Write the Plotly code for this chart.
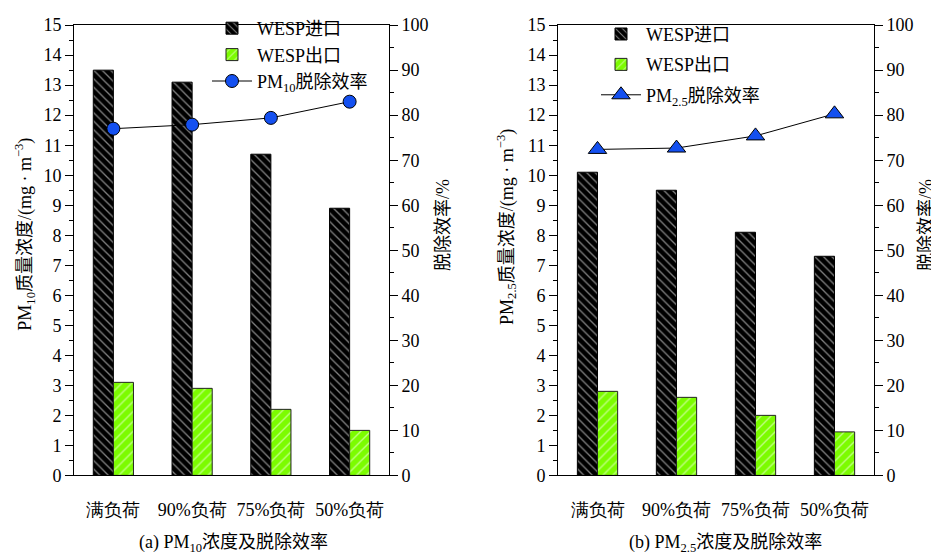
import plotly.graph_objects as go

categories = ["满负荷", "90%负荷", "75%负荷", "50%负荷"]
pm10_inlet = [13.5, 13.1, 10.7, 8.9]
pm10_outlet = [3.1, 2.9, 2.2, 1.5]
pm10_eff = [77.0, 77.9, 79.4, 83.0]
pm25_inlet = [10.1, 9.5, 8.1, 7.3]
pm25_outlet = [2.8, 2.6, 2.0, 1.45]
pm25_eff = [72.4, 72.7, 75.4, 80.3]
conc_ticks = list(range(0, 16))
eff_ticks = list(range(0, 101, 10))

W, H = 931, 558
FONT = "'Liberation Serif', 'Noto Sans CJK SC'"
TFONT = "Liberation Serif"
BLACK = "#000000"
GREEN = "#7CFC00"
BLUE = "#1450F0"


def px(x):
    return x / W


def py(y):
    return 1 - y / H


fig = go.Figure()

inlet_pat = dict(shape="\\", fgcolor="white", bgcolor=BLACK, size=6, solidity=0.22)
outlet_pat = dict(shape="/", fgcolor="white", bgcolor=GREEN, size=7, solidity=0.2)

# Panel (a)
fig.add_trace(go.Bar(x=categories, y=pm10_inlet, name="WESP进口", xaxis="x", yaxis="y",
                     marker=dict(color=BLACK, pattern=inlet_pat, line=dict(color=BLACK, width=1)),
                     legend="legend", legendgroup="a1", offsetgroup="a1"))
fig.add_trace(go.Bar(x=categories, y=pm10_outlet, name="WESP出口", xaxis="x", yaxis="y",
                     marker=dict(color=GREEN, pattern=outlet_pat, line=dict(color="#222222", width=1)),
                     legend="legend", legendgroup="a2", offsetgroup="a2"))
fig.add_trace(go.Scatter(x=categories, y=pm10_eff, name="PM<sub>10</sub>脱除效率", xaxis="x", yaxis="y2",
                         mode="lines+markers", line=dict(color=BLACK, width=1),
                         marker=dict(symbol="circle", size=13, color=BLUE, line=dict(color=BLACK, width=1)),
                         legend="legend", legendgroup="a3"))

# Panel (b)
fig.add_trace(go.Bar(x=categories, y=pm25_inlet, name="WESP进口", xaxis="x2", yaxis="y3",
                     marker=dict(color=BLACK, pattern=inlet_pat, line=dict(color=BLACK, width=1)),
                     legend="legend2", legendgroup="b1", offsetgroup="b1"))
fig.add_trace(go.Bar(x=categories, y=pm25_outlet, name="WESP出口", xaxis="x2", yaxis="y3",
                     marker=dict(color=GREEN, pattern=outlet_pat, line=dict(color="#222222", width=1)),
                     legend="legend2", legendgroup="b2", offsetgroup="b2"))
fig.add_trace(go.Scatter(x=categories, y=pm25_eff, name="PM<sub>2.5</sub>脱除效率", xaxis="x2", yaxis="y4",
                         mode="lines+markers", line=dict(color=BLACK, width=1),
                         marker=dict(symbol="triangle-up", size=16, color=BLUE, line=dict(color=BLACK, width=1)),
                         legend="legend2", legendgroup="b3"))

ydom = [py(482.7), py(15.7)]
xdom1 = [px(74), px(389)]
xdom2 = [px(558), px(874)]

xcommon = dict(type="category", showline=True, linecolor=BLACK, linewidth=1, mirror=True,
               ticks="", ticklabelstandoff=18,
               tickfont=dict(size=18, family=TFONT, color=BLACK), showgrid=False,
               zeroline=False)
yleft = dict(range=[0, 15], tickvals=conc_ticks, ticktext=[str(v) for v in conc_ticks],
             showline=True, linecolor=BLACK, linewidth=1, ticks="outside", ticklen=8,
             tickcolor=BLACK, tickfont=dict(size=18, family=TFONT, color=BLACK), showgrid=False,
             zeroline=False,
             minor=dict(ticks="outside", ticklen=4, tickcolor=BLACK, dtick=0.5, tick0=0, showgrid=False))
yright = dict(range=[0, 100], tickvals=eff_ticks, ticktext=[str(v) for v in eff_ticks],
              showline=True, linecolor=BLACK, linewidth=1, ticks="outside", ticklen=8,
              tickcolor=BLACK, tickfont=dict(size=18, family=TFONT, color=BLACK), showgrid=False,
              zeroline=False, side="right",
              minor=dict(ticks="outside", ticklen=4, tickcolor=BLACK, dtick=5, tick0=0, showgrid=False))

legcommon = dict(xanchor="left", yanchor="top", bgcolor="rgba(0,0,0,0)",
                 font=dict(size=18, family=FONT, color=BLACK), itemwidth=40)

fig.update_layout(
    width=W, height=H,
    margin=dict(l=0, r=0, t=0, b=0),
    paper_bgcolor="white", plot_bgcolor="white",
    font=dict(family=TFONT, size=18, color=BLACK),
    barmode="group", bargap=0.49, bargroupgap=0,
    xaxis=dict(domain=xdom1, anchor="y", **xcommon),
    yaxis=dict(domain=ydom, anchor="x", **yleft),
    yaxis2=dict(overlaying="y", anchor="x", **yright),
    xaxis2=dict(domain=xdom2, anchor="y3", **xcommon),
    yaxis3=dict(domain=ydom, anchor="x2", **yleft),
    yaxis4=dict(overlaying="y3", anchor="x2", **yright),
    legend=dict(x=px(207), y=py(0), traceorder="normal", **legcommon),
    legend2=dict(x=px(596), y=py(6), traceorder="grouped", tracegroupgap=4, **legcommon),
    showlegend=True,
)

annos = [
    dict(text="PM<sub>10</sub>质量浓度/(mg · m<sup>−3</sup>)", x=px(25), y=py(233), textangle=-90),
    dict(text="脱除效率/%", x=px(443), y=py(223), textangle=-90),
    dict(text="PM<sub>2.5</sub>质量浓度/(mg · m<sup>−3</sup>)", x=px(507), y=py(225), textangle=-90),
    dict(text="脱除效率/%", x=px(926), y=py(223), textangle=-90),
    dict(text="(a) PM<sub>10</sub>浓度及脱除效率", x=px(233), y=py(553), textangle=0),
    dict(text="(b) PM<sub>2.5</sub>浓度及脱除效率", x=px(725), y=py(553), textangle=0),
]
for a in annos:
    fig.add_annotation(xref="paper", yref="paper", showarrow=False,
                       xanchor="center", yanchor="middle",
                       font=dict(size=18, family=FONT, color=BLACK), **a)

fig.write_html("out.html")
